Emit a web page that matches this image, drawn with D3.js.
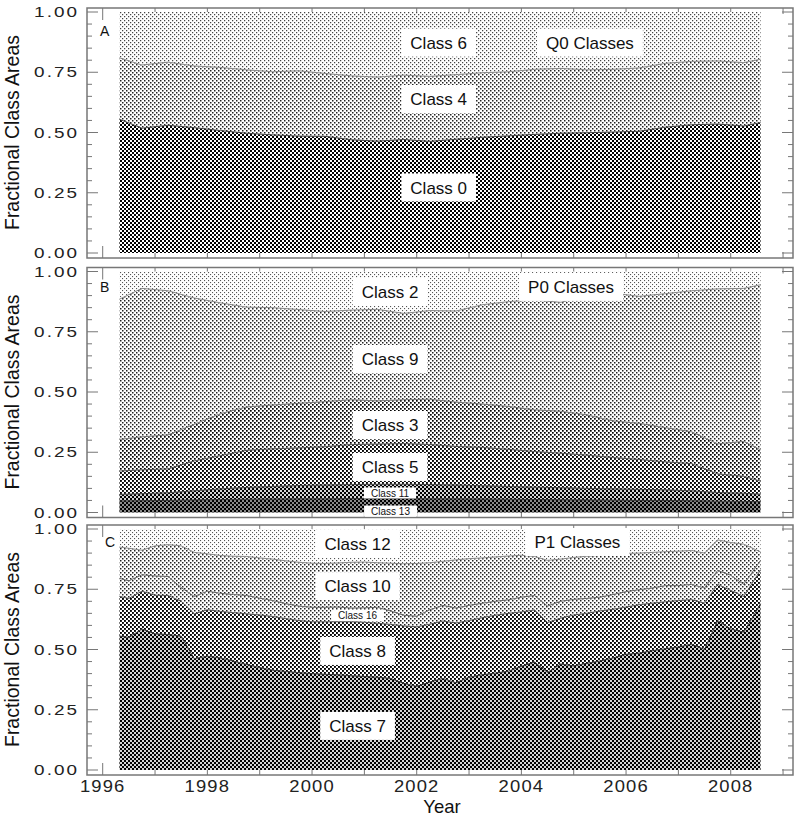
<!DOCTYPE html>
<html>
<head>
<meta charset="utf-8">
<script src="https://cdn.jsdelivr.net/npm/d3@7"></script>
<style>
  body { margin: 0; background: #fff; }
  svg { display: block; font-family: "Liberation Sans", Arial, sans-serif; }
</style>
</head>
<body>
<div id="chart"></div>
<script>
// ---- data (fractional class areas) ----
const yearsAB = [1996.32, 1996.75, 1997.25, 1997.75, 1998.25, 1998.75, 1999.25, 1999.75, 2000.25, 2000.75,
  2001.25, 2001.75, 2002.25, 2002.75, 2003.25, 2003.75, 2004.25, 2004.75, 2005.25, 2005.75,
  2006.25, 2006.75, 2007.25, 2007.75, 2008.25, 2008.57];

// Q0 classes
const q0Class0 = [0.555, 0.518, 0.530, 0.520, 0.508, 0.497, 0.490, 0.485, 0.484, 0.470, 0.464, 0.471, 0.463,
  0.472, 0.480, 0.486, 0.492, 0.497, 0.499, 0.502, 0.505, 0.522, 0.532, 0.535, 0.527, 0.541];
const q0Class4 = [0.255, 0.262, 0.262, 0.256, 0.262, 0.263, 0.262, 0.271, 0.261, 0.265, 0.266, 0.267, 0.270,
  0.268, 0.268, 0.266, 0.270, 0.269, 0.261, 0.260, 0.263, 0.265, 0.263, 0.262, 0.263, 0.263];
const q0Class6 = [0.190, 0.220, 0.208, 0.224, 0.230, 0.240, 0.248, 0.244, 0.255, 0.265, 0.270, 0.262, 0.267,
  0.260, 0.252, 0.248, 0.238, 0.234, 0.240, 0.238, 0.232, 0.213, 0.205, 0.203, 0.210, 0.196];

// P0 classes
const p0Class13 = [0.048, 0.049, 0.050, 0.052, 0.054, 0.055, 0.056, 0.057, 0.057, 0.058, 0.058, 0.058, 0.057,
  0.057, 0.056, 0.055, 0.054, 0.053, 0.052, 0.051, 0.050, 0.050, 0.049, 0.047, 0.046, 0.045];
const p0Class11 = [0.027, 0.029, 0.032, 0.038, 0.044, 0.049, 0.052, 0.055, 0.057, 0.058, 0.059, 0.059, 0.059,
  0.057, 0.055, 0.053, 0.051, 0.050, 0.048, 0.047, 0.046, 0.044, 0.041, 0.036, 0.034, 0.031];
const p0Class5 = [0.097, 0.099, 0.099, 0.124, 0.138, 0.154, 0.156, 0.156, 0.159, 0.166, 0.167, 0.169, 0.166,
  0.160, 0.159, 0.154, 0.148, 0.143, 0.138, 0.130, 0.124, 0.116, 0.113, 0.077, 0.070, 0.054];
const p0Class3 = [0.131, 0.137, 0.141, 0.152, 0.174, 0.180, 0.182, 0.185, 0.187, 0.186, 0.179, 0.182, 0.188,
  0.184, 0.180, 0.178, 0.173, 0.174, 0.167, 0.152, 0.150, 0.142, 0.132, 0.125, 0.145, 0.130];
const p0Class9 = [0.582, 0.616, 0.598, 0.524, 0.460, 0.414, 0.404, 0.389, 0.374, 0.372, 0.380, 0.358, 0.368,
  0.378, 0.412, 0.435, 0.456, 0.452, 0.495, 0.530, 0.527, 0.556, 0.585, 0.643, 0.635, 0.685];
const p0Class2 = [0.115, 0.070, 0.080, 0.110, 0.130, 0.148, 0.150, 0.158, 0.166, 0.160, 0.157, 0.174, 0.162,
  0.164, 0.138, 0.125, 0.118, 0.128, 0.100, 0.090, 0.103, 0.092, 0.080, 0.072, 0.070, 0.055];

// P1 classes
const yearsC = [1996.32, 1996.5, 1996.75, 1997.0, 1997.25, 1997.5, 1997.75, 1998.0, 1998.25, 1998.5,
  1998.75, 1999.0, 1999.25, 1999.5, 1999.75, 2000.0, 2000.25, 2000.5, 2000.75, 2001.0,
  2001.25, 2001.5, 2001.75, 2002.0, 2002.25, 2002.5, 2002.75, 2003.0, 2003.25, 2003.5,
  2003.75, 2004.0, 2004.25, 2004.5, 2004.75, 2005.0, 2005.25, 2005.5, 2005.75, 2006.0,
  2006.25, 2006.5, 2006.75, 2007.0, 2007.25, 2007.5, 2007.75, 2008.0, 2008.25, 2008.57];
const p1Class7 = [0.556, 0.550, 0.585, 0.565, 0.562, 0.555, 0.462, 0.472, 0.465, 0.452,
  0.438, 0.425, 0.414, 0.409, 0.404, 0.400, 0.397, 0.395, 0.391, 0.388,
  0.385, 0.380, 0.360, 0.347, 0.365, 0.380, 0.362, 0.385, 0.395, 0.402,
  0.410, 0.430, 0.448, 0.405, 0.440, 0.432, 0.443, 0.452, 0.465, 0.480,
  0.485, 0.495, 0.503, 0.510, 0.522, 0.500, 0.620, 0.585, 0.572, 0.690];
const p1Class8 = [0.164, 0.162, 0.157, 0.160, 0.162, 0.145, 0.186, 0.193, 0.193, 0.201,
  0.210, 0.218, 0.223, 0.219, 0.216, 0.215, 0.218, 0.220, 0.224, 0.225,
  0.224, 0.224, 0.238, 0.247, 0.240, 0.238, 0.248, 0.235, 0.237, 0.240,
  0.240, 0.226, 0.216, 0.207, 0.190, 0.211, 0.207, 0.208, 0.202, 0.196,
  0.201, 0.197, 0.195, 0.193, 0.185, 0.192, 0.150, 0.160, 0.148, 0.140];
const p1Class16 = [0.075, 0.073, 0.068, 0.080, 0.079, 0.057, 0.072, 0.077, 0.075, 0.075,
  0.076, 0.070, 0.066, 0.062, 0.060, 0.060, 0.060, 0.061, 0.057, 0.060,
  0.066, 0.056, 0.044, 0.044, 0.060, 0.065, 0.062, 0.063, 0.060, 0.058,
  0.056, 0.061, 0.060, 0.068, 0.070, 0.065, 0.062, 0.057, 0.061, 0.064,
  0.062, 0.063, 0.067, 0.062, 0.063, 0.063, 0.058, 0.063, 0.050, 0.040];
const p1Class10 = [0.130, 0.135, 0.102, 0.125, 0.132, 0.173, 0.183, 0.155, 0.157, 0.159,
  0.162, 0.167, 0.172, 0.178, 0.182, 0.183, 0.182, 0.183, 0.190, 0.190,
  0.185, 0.198, 0.214, 0.219, 0.195, 0.183, 0.200, 0.194, 0.188, 0.184,
  0.182, 0.174, 0.162, 0.190, 0.175, 0.174, 0.175, 0.173, 0.167, 0.159,
  0.152, 0.148, 0.141, 0.143, 0.141, 0.145, 0.127, 0.136, 0.167, 0.035];
const p1Class12 = [0.075, 0.080, 0.088, 0.070, 0.065, 0.070, 0.097, 0.103, 0.110, 0.113,
  0.114, 0.120, 0.125, 0.132, 0.138, 0.142, 0.143, 0.141, 0.138, 0.137,
  0.140, 0.142, 0.144, 0.143, 0.140, 0.134, 0.128, 0.123, 0.120, 0.116,
  0.112, 0.109, 0.114, 0.130, 0.125, 0.118, 0.113, 0.110, 0.105, 0.101,
  0.100, 0.097, 0.094, 0.092, 0.089, 0.100, 0.045, 0.056, 0.063, 0.095];

const yTickLabels = ["0.00", "0.25", "0.50", "0.75", "1.00"];
const xTickLabels = ["1996", "1998", "2000", "2002", "2004", "2006", "2008"];

// ---- halftone fills ----
const shades = {
  s1: { bg: "#fff", fg: "#555", d: 1.1 },
  s2: { bg: "#fff", fg: "#444", d: 1.25 },
  s3: { bg: "#fff", fg: "#222", d: 1.5 },
  s4: { bg: "#fff", fg: "#000", d: 1.7 },
  s5: { bg: "#fff", fg: "#000", d: 1.9 },
  s6: { bg: "#fff", fg: "#000", d: 2 },
  s7: { bg: "#d4d4d4", fg: "#000", d: 2 },
  s8: { bg: "#8a8a8a", fg: "#000", d: 2 }
};

const panels = [
  { top: 8, letter: "A", letterX: 100, letterDy: 28, years: yearsAB,
    series: [
      { name: "Class 0", values: q0Class0, shade: "s6", line: "#444" },
      { name: "Class 4", values: q0Class4, shade: "s3", line: "#888" },
      { name: "Class 6", values: q0Class6, shade: "s2" }
    ],
    labels: [
      { text: "Class 6", year: 2002.42, v: 0.873, size: 17 },
      { text: "Q0 Classes", year: 2005.31, v: 0.873, size: 17 },
      { text: "Class 4", year: 2002.42, v: 0.639, size: 17 },
      { text: "Class 0", year: 2002.42, v: 0.272, size: 17 }
    ] },
  { top: 267.5, letter: "B", letterX: 100, letterDy: 24, years: yearsAB,
    series: [
      { name: "Class 13", values: p0Class13, shade: "s8", line: "#333" },
      { name: "Class 11", values: p0Class11, shade: "s7", line: "#444" },
      { name: "Class 5", values: p0Class5, shade: "s5", line: "#555" },
      { name: "Class 3", values: p0Class3, shade: "s4", line: "#777" },
      { name: "Class 9", values: p0Class9, shade: "s3", line: "#888" },
      { name: "Class 2", values: p0Class2, shade: "s1" }
    ],
    labels: [
      { text: "Class 2", year: 2001.49, v: 0.915, size: 17 },
      { text: "P0 Classes", year: 2004.95, v: 0.936, size: 17 },
      { text: "Class 9", year: 2001.49, v: 0.637, size: 17 },
      { text: "Class 3", year: 2001.49, v: 0.363, size: 17 },
      { text: "Class 5", year: 2001.49, v: 0.189, size: 17 },
      { text: "Class 11", year: 2001.49, v: 0.081, size: 10 },
      { text: "Class 13", year: 2001.5, v: 0.006, size: 10 }
    ] },
  { top: 525, letter: "C", letterX: 105, letterDy: 22, years: yearsC,
    series: [
      { name: "Class 7", values: p1Class7, shade: "s7", line: "#333" },
      { name: "Class 8", values: p1Class8, shade: "s5", line: "#555" },
      { name: "Class 16", values: p1Class16, shade: "s3", line: "#666" },
      { name: "Class 10", values: p1Class10, shade: "s3", line: "#888" },
      { name: "Class 12", values: p1Class12, shade: "s1" }
    ],
    labels: [
      { text: "Class 12", year: 2000.87, v: 0.938, size: 17 },
      { text: "P1 Classes", year: 2005.07, v: 0.946, size: 17 },
      { text: "Class 10", year: 2000.87, v: 0.763, size: 17 },
      { text: "Class 16", year: 2000.87, v: 0.641, size: 10 },
      { text: "Class 8", year: 2000.87, v: 0.494, size: 17 },
      { text: "Class 7", year: 2000.87, v: 0.183, size: 17 }
    ] }
];

const width = 795, height = 820;
const frameH = 250;
const axisColor = "#777";

const svg = d3.select("#chart").append("svg")
  .attr("width", width)
  .attr("height", height);

const defs = svg.append("defs");
Object.entries(shades).forEach(([id, s]) => {
  const p = defs.append("pattern")
    .attr("id", id)
    .attr("patternUnits", "userSpaceOnUse")
    .attr("width", 4).attr("height", 4);
  p.append("rect").attr("width", 4).attr("height", 4).attr("fill", s.bg);
  p.append("rect").attr("x", 0).attr("y", 0).attr("width", s.d).attr("height", s.d).attr("fill", s.fg);
  p.append("rect").attr("x", 2).attr("y", 2).attr("width", s.d).attr("height", s.d).attr("fill", s.fg);
});

const x = d3.scaleLinear().domain([1995.7, 2009.19]).range([87, 793]);

panels.forEach((panel, pi) => {
  const y = d3.scaleLinear().domain([0, 1]).range([panel.top + 245, panel.top + 4]);
  const g = svg.append("g");
  const fTop = panel.top, fBot = panel.top + frameH;

  // ticks (under the fill, as in the original)
  const yt = d3.range(0, 21).map(i => i * 0.05);
  g.selectAll(".ytl").data(yt).enter().append("line")
    .attr("x1", x.range()[0]).attr("x2", (d, i) => x.range()[0] + (i % 5 === 0 ? 11 : 5))
    .attr("y1", d => y(d)).attr("y2", d => y(d))
    .attr("stroke", axisColor).attr("stroke-width", 1);
  g.selectAll(".ytr").data(yt).enter().append("line")
    .attr("x1", x.range()[1]).attr("x2", (d, i) => x.range()[1] - (i % 5 === 0 ? 11 : 5))
    .attr("y1", d => y(d)).attr("y2", d => y(d))
    .attr("stroke", axisColor).attr("stroke-width", 1);
  const xt = d3.range(1996, 2010);
  [[fTop, 1], [fBot, -1]].forEach(([y0, dir]) => {
    g.selectAll(null).data(xt).enter().append("line")
      .attr("x1", d => x(d)).attr("x2", d => x(d))
      .attr("y1", y0).attr("y2", d => y0 + dir * (d % 2 === 0 ? 12 : 6))
      .attr("stroke", axisColor).attr("stroke-width", 1);
  });

  // stacked areas
  const keys = panel.series.map(s => s.name);
  const rows = panel.years.map((yr, i) => {
    const r = { year: yr };
    panel.series.forEach(s => { r[s.name] = s.values[i]; });
    return r;
  });
  const stacked = d3.stack().keys(keys)(rows);

  const area = d3.area()
    .x(d => x(d.data.year))
    .y0(d => y(d[0]))
    .y1(d => y(d[1]));

  g.selectAll(".layer").data(stacked).enter().append("path")
    .attr("d", area)
    .attr("fill", (d, i) => `url(#${panel.series[i].shade})`)
    .attr("stroke", "none");

  const topLine = d3.line().x(d => x(d.data.year)).y(d => y(d[1]));
  g.selectAll(".edge").data(stacked.slice(0, -1)).enter().append("path")
    .attr("d", topLine)
    .attr("fill", "none")
    .attr("stroke", (d, i) => panel.series[i].line)
    .attr("stroke-width", 1);

  // frame
  g.append("rect")
    .attr("x", x.range()[0]).attr("y", fTop)
    .attr("width", x.range()[1] - x.range()[0]).attr("height", frameH)
    .attr("fill", "none").attr("stroke", axisColor).attr("stroke-width", 1.5);

  // y tick labels
  g.selectAll(".ylab").data(yTickLabels).enter().append("text")
    .attr("transform", (d, i) => `translate(79,${y(i * 0.25) + 5}) scale(1.35,1)`)
    .attr("text-anchor", "end")
    .style("font-size", "14px")
    .style("letter-spacing", "1.5px")
    .attr("fill", "#222")
    .text(d => d);

  // axis title
  g.append("text")
    .attr("transform", `translate(18.5,${(y(0) + y(1)) / 2}) rotate(-90)`)
    .attr("text-anchor", "middle")
    .style("font-size", "19.5px")
    .attr("fill", "#111")
    .text("Fractional Class Areas");

  // panel letter
  g.append("text")
    .attr("x", panel.letterX).attr("y", fTop + panel.letterDy)
    .style("font-size", "14px")
    .attr("fill", "#111")
    .text(panel.letter);

  // class labels in white boxes
  panel.labels.forEach(l => {
    const lg = g.append("g");
    const cx = x(l.year), cy = y(l.v);
    const t = lg.append("text")
      .attr("x", cx).attr("y", cy + l.size * 0.36)
      .attr("text-anchor", "middle")
      .style("font-size", l.size + "px")
      .attr("fill", "#111")
      .text(l.text);
    const w = t.node().getComputedTextLength();
    const padX = l.size > 12 ? 9 : 7;
    const h = l.size > 12 ? 28 : 11;
    lg.insert("rect", "text")
      .attr("x", cx - w / 2 - padX).attr("y", cy - h / 2)
      .attr("width", w + 2 * padX).attr("height", h)
      .attr("fill", "#fff");
  });

  // x tick labels on bottom panel
  if (pi === panels.length - 1) {
    g.selectAll(".xlab").data(xTickLabels).enter().append("text")
      .attr("transform", d => `translate(${x(+d)},792) scale(1.15,1)`)
      .attr("text-anchor", "middle")
      .style("font-size", "16px")
      .style("letter-spacing", "1px")
      .attr("fill", "#222")
      .text(d => d);
    g.append("text")
      .attr("x", (x.range()[0] + x.range()[1]) / 2 + 2).attr("y", 813)
      .attr("text-anchor", "middle")
      .style("font-size", "18.5px")
      .attr("fill", "#111")
      .text("Year");
  }
});
</script>
</body>
</html>
